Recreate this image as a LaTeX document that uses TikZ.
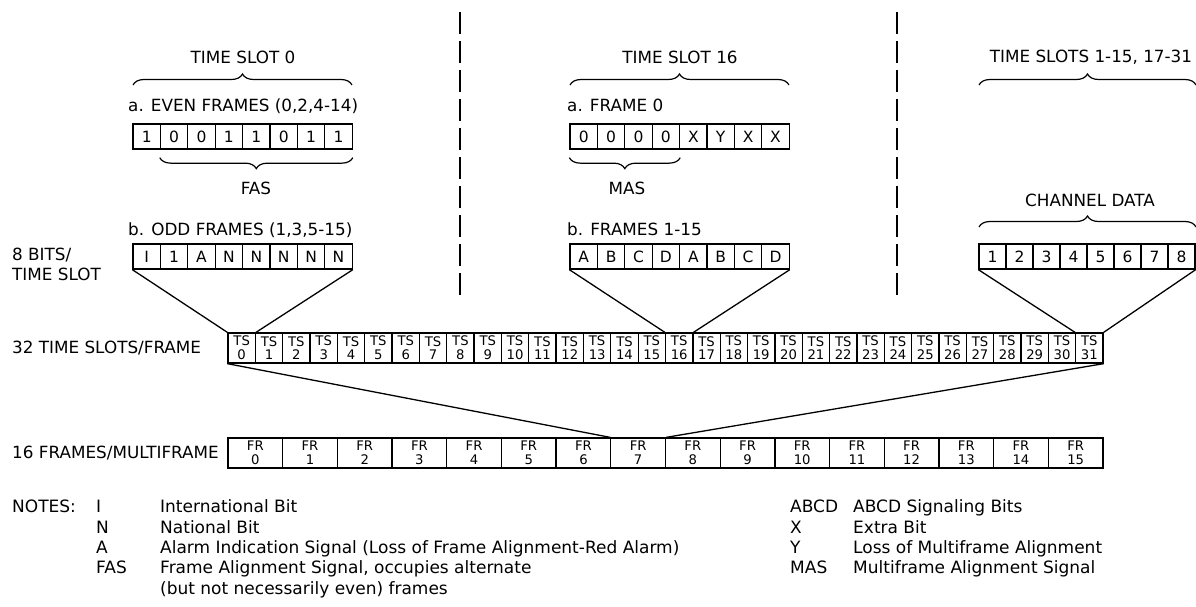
\documentclass[tikz,border=0pt]{standalone}
\usepackage{fontspec}
\setmainfont{DejaVu Sans}
\usetikzlibrary{decorations.pathreplacing}
\begin{document}
\begin{tikzpicture}[x=1pt,y=-1pt,
  lbl/.style={font=\fontsize{16.8}{20}\selectfont, inner sep=0pt},
  bit/.style={draw, line width=1.3pt, minimum width=27.4pt, minimum height=25pt, inner sep=0pt, font=\fontsize{15.5}{18}\selectfont},
  chbit/.style={bit, minimum width=27pt},
  tsbox/.style={draw, line width=1.3pt, minimum width=27.34pt, minimum height=30pt, inner sep=0pt, align=center, font=\fontsize{13.2}{13.8}\selectfont},
  frbox/.style={draw, line width=1.3pt, minimum width=54.69pt, minimum height=30pt, inner sep=0pt, align=center, font=\fontsize{13.2}{13.8}\selectfont},
  conn/.style={line width=1.3pt},
  brc/.style={decorate, decoration={brace, amplitude=11pt}, line width=1.2pt},
  sepline/.style={line width=1.4pt, dash pattern=on 22pt off 7pt},
  note/.style={font=\fontsize{17}{20}\selectfont, anchor=base west, inner sep=0pt}
]
\useasboundingbox (0,0) rectangle (1196,607);

% separators
\draw[sepline] (460,12) -- (460,295);
\draw[sepline] (897,12) -- (897,295);

% headers
\node[lbl] (h0) at (243,57) {TIME SLOT 0};
\node[lbl] (h16) at (680,57) {TIME SLOT 16};
\node[lbl] (hch) at (1091,57) {TIME SLOTS 1-15, 17-31};
\draw[brc] (133,85) -- (352,85);
\draw[brc] (570,85) -- (789,85);
\draw[brc] (979,85) -- (1196,85);

% time slot 0
\node[lbl, anchor=base west] (ae) at (128,112) {a. EVEN FRAMES (0,2,4-14)};
\foreach \t [count=\i] in {1,0,0,1,1,0,1,1}
  \node[bit] (e\i) at ({133+27.4*(\i-0.5)},136.5) {\t};
\path (e8.south east) ++(0,8) coordinate (fasR) (e2.south west) ++(0,8) coordinate (fasL);
\draw[brc] (fasR) -- (fasL);
\node[lbl] (fas) at (256,188) {FAS};
\node[lbl, anchor=base west] (bo) at (128,235) {b. ODD FRAMES (1,3,5-15)};
\foreach \t [count=\i] in {I,1,A,N,N,N,N,N}
  \node[bit] (o\i) at ({133+27.4*(\i-0.5)},256.5) {\t};

% time slot 16
\node[lbl, anchor=base west] (af) at (567,112) {a. FRAME 0};
\foreach \t [count=\i] in {0,0,0,0,X,Y,X,X}
  \node[bit] (m\i) at ({570+27.4*(\i-0.5)},136.5) {\t};
\path (m4.south east) ++(0,8) coordinate (masR) (m1.south west) ++(0,8) coordinate (masL);
\draw[brc] (masR) -- (masL);
\node[lbl] (mas) at (627,188) {MAS};
\node[lbl, anchor=base west] (bf) at (567,235) {b. FRAMES 1-15};
\foreach \t [count=\i] in {A,B,C,D,A,B,C,D}
  \node[bit] (s\i) at ({570+27.4*(\i-0.5)},256.5) {\t};

% channel data
\node[lbl] (cd) at (1090,200) {CHANNEL DATA};
\draw[brc] (979,227) -- (1196,227);
\foreach \t [count=\i] in {1,2,3,4,5,6,7,8}
  \node[chbit] (c\i) at ({979+27*(\i-0.5)},256.5) {\t};

% left labels
\node[lbl, anchor=west] (bits1) at (12,255) {8 BITS/};
\node[lbl, anchor=west] (bits2) at (12,274) {TIME SLOT};
\node[lbl, anchor=west] (tsl) at (12,348) {32 TIME SLOTS/FRAME};
\node[lbl, anchor=west] (frl) at (12,453) {16 FRAMES/MULTIFRAME};

% time slot row
\foreach \i in {0,...,31}
  \node[tsbox] (ts\i) at ({228+27.344*(\i+0.5)},348) {TS\\\i};
% frame row
\foreach \i in {0,...,15}
  \node[frbox] (fr\i) at ({228+54.688*(\i+0.5)},453) {FR\\\i};

% expansion lines
\draw[conn] (o1.south west) -- (ts0.north west);
\draw[conn] (o8.south east) -- (ts0.north east);
\draw[conn] (s1.south west) -- (ts16.north west);
\draw[conn] (s8.south east) -- (ts16.north east);
\draw[conn] (c1.south west) -- (ts31.north west);
\draw[conn] (c8.south east) -- (ts31.north east);
\draw[conn] (ts0.south west) -- (fr7.north west);
\draw[conn] (ts31.south east) -- (fr7.north east);

% notes
\node[note] (n0) at (12,512) {NOTES:};
\node[note] (k1) at (96,512) {I};
\node[note] (d1) at (160,512) {International Bit};
\node[note] (k2) at (96,533) {N};
\node[note] (d2) at (160,533) {National Bit};
\node[note] (k3) at (96,553) {A};
\node[note] (d3) at (160,553) {Alarm Indication Signal (Loss of Frame Alignment-Red Alarm)};
\node[note] (k4) at (96,573) {FAS};
\node[note] (d4) at (160,573) {Frame Alignment Signal, occupies alternate};
\node[note] (d5) at (160,594) {(but not necessarily even) frames};
\node[note] (k5) at (790,512) {ABCD};
\node[note] (d6) at (853,512) {ABCD Signaling Bits};
\node[note] (k6) at (790,533) {X};
\node[note] (d7) at (853,533) {Extra Bit};
\node[note] (k7) at (790,553) {Y};
\node[note] (d8) at (853,553) {Loss of Multiframe Alignment};
\node[note] (k8) at (790,573) {MAS};
\node[note] (d9) at (853,573) {Multiframe Alignment Signal};
\end{tikzpicture}
\end{document}
